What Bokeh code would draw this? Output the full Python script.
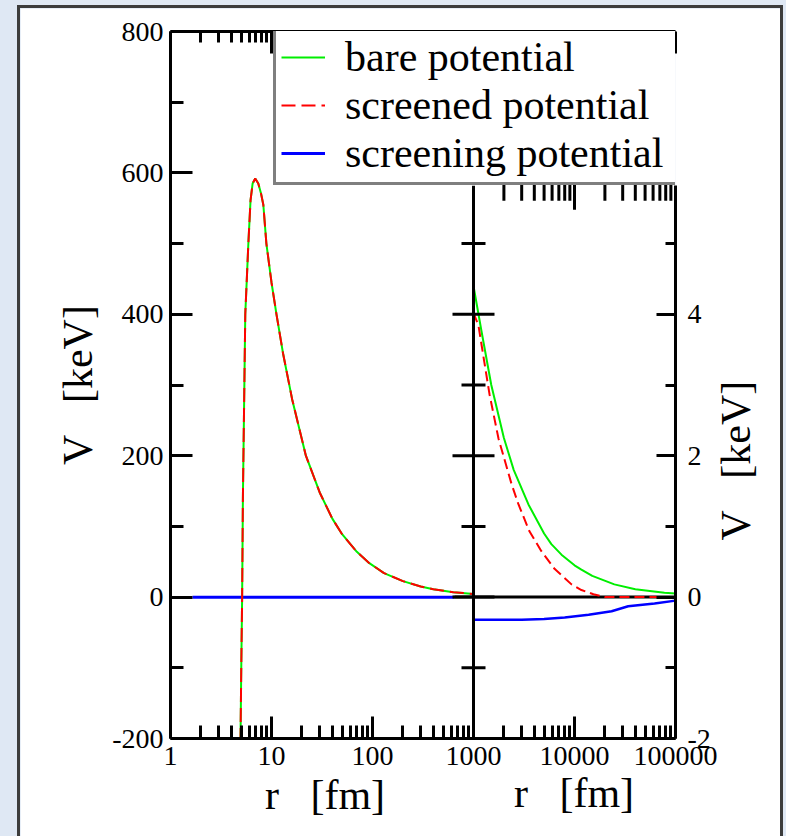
import math
from bokeh.plotting import figure
from bokeh.models import (Range1d, LogAxis, LinearAxis, FixedTicker, Legend,
                          LegendItem, NumeralTickFormatter, CustomJSTickFormatter)
from bokeh.layouts import column
from bokeh.embed import file_html
from bokeh.resources import INLINE

FONT = "Liberation Serif"

# ---------------- data ----------------
# left panel: r in fm, V in keV (bare and screened coincide on this scale)
r_left = [4.93, 5.02, 5.12, 5.21, 5.5, 5.9, 6.2, 6.5, 6.9, 7.4, 7.9, 8.3, 8.9, 10, 11.2,
          13, 16, 21.9, 30, 40, 50, 70, 93, 130, 200, 300, 400, 631, 1000]
v_bare_left = [-205, -100, 0, 141, 400, 500, 561, 585, 592, 585, 570, 555, 500, 445, 400,
               345, 280, 200, 148, 111, 89, 64, 48, 34, 22.6, 15, 11.2, 7, 4.4]
v_screened_left = [-205, -100, 0, 141, 400, 500, 561, 585, 592, 585, 570, 555, 500, 445, 400,
                   345, 280, 200, 148, 111, 89, 64, 48, 34, 22.6, 15, 11.2, 7, 4.4]
r_screening_left = [1.65, 650]
v_screening_left = [-0.32, -0.32]

# right panel (zoom): r in fm, V in keV
r_bare_right = [1000, 1200, 1500, 2000, 2500, 3500, 5000, 5900, 7430, 10000, 11700, 15000,
                24800, 40000, 77700, 100000]
v_bare_right = [4.4, 3.76, 3.0, 2.25, 1.8, 1.31, 0.9, 0.75, 0.6, 0.45, 0.39, 0.3,
                0.18, 0.11, 0.06, 0.05]
r_screened_right = [1000, 1120, 1440, 1770, 2380, 2790, 3580, 4700, 6340, 9340, 11700,
                    15400, 20000, 50000, 100000]
v_screened_right = [4.02, 3.84, 2.87, 2.24, 1.6, 1.31, 0.93, 0.65, 0.40, 0.18, 0.10,
                    0.04, 0.0, 0.0, 0.0]
r_screening_right = [1000, 3000, 5000, 8000, 13800, 23300, 34000, 62000, 100000]
v_screening_right = [-0.32, -0.32, -0.31, -0.29, -0.25, -0.20, -0.13, -0.09, -0.05]
r_zero_line = [650, 100000]
v_zero_line = [0, 0]

# axes / ticks
x_major = [1, 10, 100, 1000, 10000, 100000]
x_minor = [m * d for d in (1, 10, 100, 1000, 10000) for m in range(2, 10)]
y_left_major = [-200, 0, 200, 400, 600, 800]
y_left_minor = [-100, 100, 300, 500, 700]
y_right_major = [-2, 0, 2, 4]
y_right_minor = [-1, 1, 3, 5]
right_panel_r = [1000, 100000]
right_panel_v = [-2, 5.82]

legend_labels = ["bare potential", "screened potential", "screening potential"]
NB = "\u00a0"
x_title = "r" + NB * 3 + "[fm]"
y_title = "V" + NB * 3 + "[keV]"
GREEN, RED, BLUE = "#00ee00", "#ff0000", "#0000ff"
PAGE_BG = "#dfe8f4"

W, H = 766, 831

def style_axis(ax, maj_in, min_in):
    ax.axis_line_width = 3
    ax.axis_line_color = "black"
    ax.major_tick_line_width = 3
    ax.minor_tick_line_width = 3
    ax.major_tick_line_color = "black"
    ax.minor_tick_line_color = "black"
    ax.major_tick_in = maj_in
    ax.major_tick_out = 0
    ax.minor_tick_in = min_in
    ax.minor_tick_out = 0
    ax.major_label_text_font = FONT
    ax.major_label_text_font_size = "28px"
    ax.major_label_text_color = "black"
    ax.axis_label_text_font = FONT
    ax.axis_label_text_font_size = "42px"
    ax.axis_label_text_font_style = "normal"
    ax.axis_label_text_color = "black"

int_fmt = CustomJSTickFormatter(code="return tick.toFixed(0)")

# ---------------- main figure: both panels share one frame ----------------
p = figure(width=W, height=H, x_axis_type="log",
           x_range=Range1d(1, 100000), y_range=Range1d(-200, 800),
           output_backend="svg", toolbar_location=None,
           min_border_left=150, min_border_right=111, min_border_top=23, min_border_bottom=101)
p.extra_y_ranges = {"right": Range1d(-2, 8)}
p.grid.visible = False
p.outline_line_color = None
p.background_fill_color = "white"
p.border_fill_color = "white"

xb = p.xaxis[0]
xb.ticker = FixedTicker(ticks=x_major, minor_ticks=x_minor)
xb.formatter = NumeralTickFormatter(format="0")
style_axis(xb, 22, 13)
xb.major_label_standoff = 8
# title of the left panel; trailing spaces move it to the centre of that panel
xb.axis_label = x_title + NB * 18 + "\u2006"
xb.axis_label_standoff = 4

yl = p.yaxis[0]
yl.ticker = FixedTicker(ticks=y_left_major, minor_ticks=y_left_minor)
yl.formatter = int_fmt
style_axis(yl, 22, 13)
yl.major_label_standoff = 7
yl.axis_label = y_title
yl.axis_label_standoff = 8

xt = LogAxis(ticker=FixedTicker(ticks=x_major, minor_ticks=x_minor),
             formatter=CustomJSTickFormatter(code="return ''"))
style_axis(xt, 22, 11)
xt.major_label_text_font_size = "0px"
xt.major_label_standoff = 0
p.add_layout(xt, "above")

yr = LinearAxis(y_range_name="right", ticker=FixedTicker(ticks=y_right_major, minor_ticks=y_right_minor),
                formatter=int_fmt, bounds=(right_panel_v[0], right_panel_v[1]))
style_axis(yr, 19, 10)
yr.major_label_standoff = 12
p.add_layout(yr, "right")

# left panel curves
b_left = p.line(r_screening_left, v_screening_left, line_color=BLUE, line_width=3)
g_left = p.line(r_left, v_bare_left, line_color=GREEN, line_width=2)
s_left = p.line(r_left, v_screened_left, line_color=RED, line_width=2, line_dash="14 6")

# right panel curves
p.line(r_screening_right, v_screening_right, line_color=BLUE, line_width=2.5, y_range_name="right")
p.line(r_zero_line, v_zero_line, line_color="black", line_width=3, y_range_name="right")
p.line(r_bare_right, v_bare_right, line_color=GREEN, line_width=2, y_range_name="right")
p.line(r_screened_right, v_screened_right, line_color=RED, line_width=2, line_dash="10 5",
       y_range_name="right")

# divider between the two panels with its ticks
p.line([right_panel_r[0]] * 2, right_panel_v, line_color="black", line_width=3, y_range_name="right")
p.scatter([right_panel_r[0]] * len(y_right_major), y_right_major, marker="dash", size=42,
          line_color="black", line_width=3, y_range_name="right")
p.scatter([right_panel_r[0]] * len(y_right_minor), y_right_minor, marker="dash", size=24,
          line_color="black", line_width=3, y_range_name="right")
# top ticks of the right panel (upper half hidden by the legend)
top_major = [t for t in x_major if right_panel_r[0] < t < right_panel_r[1]]
top_minor = [t for t in x_minor if right_panel_r[0] < t < right_panel_r[1]]
p.scatter(top_major, [right_panel_v[1]] * len(top_major), marker="dash", size=48, angle=math.pi / 2,
          line_color="black", line_width=3, y_range_name="right")
p.scatter(top_minor, [right_panel_v[1]] * len(top_minor), marker="dash", size=30, angle=math.pi / 2,
          line_color="black", line_width=3, y_range_name="right")

legend = Legend(items=[LegendItem(label=legend_labels[0], renderers=[g_left]),
                       LegendItem(label=legend_labels[1], renderers=[s_left]),
                       LegendItem(label=legend_labels[2], renderers=[b_left])],
                location=(103, 553))
legend.label_text_font = FONT
legend.label_text_font_size = "42px"
legend.label_text_color = "black"
legend.glyph_width = 44
legend.glyph_height = 48
legend.label_height = 48
legend.label_standoff = 20
legend.label_width = 326
legend.padding = 5
legend.spacing = 0
legend.margin = 0
legend.border_line_color = "black"
legend.border_line_width = 3
legend.background_fill_color = "white"
legend.background_fill_alpha = 1.0
p.add_layout(legend, "center")

p.styles = {"border": "3px solid #3c3c3c", "border-bottom": "0px"}
p.margin = (5, 3, 0, 17)
page = column(p, styles={"background-color": PAGE_BG})

# ---------------- transparent overlay carrying the zoom panel's axis titles ----------------
q = figure(width=W, height=H, x_axis_type="log", y_axis_location="right",
           x_range=Range1d(right_panel_r[0], right_panel_r[1]), y_range=Range1d(-2, 3.516),
           output_backend="svg", toolbar_location=None,
           min_border_left=452, min_border_right=111, min_border_top=340, min_border_bottom=101)
q.grid.visible = False
q.outline_line_color = None
q.background_fill_alpha = 0
q.border_fill_alpha = 0
for ax in (q.xaxis[0], q.yaxis[0]):
    style_axis(ax, 0, 0)
    ax.axis_line_color = None
    ax.major_tick_line_color = None
    ax.minor_tick_line_color = None
    ax.major_label_text_alpha = 0
qx = q.xaxis[0]
qx.ticker = FixedTicker(ticks=[1000, 10000, 100000])
qx.formatter = NumeralTickFormatter(format="0")
qx.axis_label = x_title
qx.axis_label_standoff = 34
qy = q.yaxis[0]
qy.ticker = FixedTicker(ticks=[-2, 0, 2])
qy.formatter = int_fmt
qy.axis_label = y_title
qy.axis_label_orientation = math.pi / 2   # reads bottom-to-top
qy.axis_label_standoff = 60
q.margin = (-H, 0, 0, 20)

open("out.html", "w").write(file_html([page, q], INLINE))
